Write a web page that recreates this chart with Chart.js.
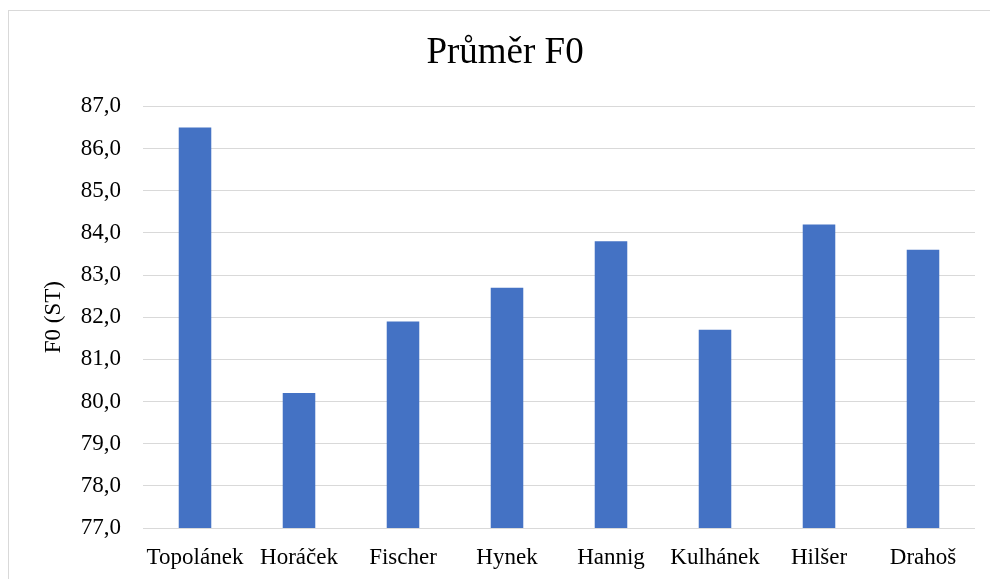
<!DOCTYPE html>
<html>
<head>
<meta charset="utf-8">
<title>Průměr F0</title>
<script src="https://cdn.jsdelivr.net/npm/chart.js@4/dist/chart.umd.min.js"></script>
<style>
    html, body { margin: 0; padding: 0; background: #fff; overflow: hidden; }
    #frame {
        position: absolute; left: 8px; top: 10px;
        width: 1000px; height: 600px;
        border: 1px solid #d9d9d9;
    }
    #chart { position: absolute; left: 0; top: 0; }
</style>
</head>
<body>
<div id="frame"></div>
<canvas id="chart" width="990" height="579"></canvas>
<script>
const speakers = ['Topolánek', 'Horáček', 'Fischer', 'Hynek', 'Hannig', 'Kulhánek', 'Hilšer', 'Drahoš'];
const meanF0 = [86.5, 80.2, 81.9, 82.7, 83.8, 81.7, 84.2, 83.6];
const yMin = 77;
const yMax = 87;

const serif = "'Liberation Serif', 'Times New Roman', serif";

function drawChart(canvas) {
    const ctx = document.getElementById(canvas).getContext('2d');

    const myChart = new Chart(ctx, {
        type: 'bar',
        data: {
            labels: speakers,
            datasets: [{
                label: 'Průměr F0',
                data: meanF0,
                backgroundColor: '#4472C4',
                borderWidth: 0,
                barPercentage: 0.313,
                categoryPercentage: 1.0
            }]
        },
        options: {
            responsive: false,
            animation: false,
            layout: {
                // left padding shifts the title centre to the middle of the framed area
                padding: { left: 35, right: 15, top: 0, bottom: 0 }
            },
            scales: {
                y: {
                    min: yMin,
                    max: yMax,
                    border: { display: false },
                    grid: { color: '#d9d9d9', lineWidth: 1, drawTicks: false },
                    ticks: {
                        stepSize: 1,
                        padding: 22,
                        color: '#000',
                        font: { family: serif, size: 23 },
                        callback: function(value) {
                            return value.toFixed(1).replace('.', ',');
                        }
                    },
                    title: {
                        display: true,
                        text: 'F0 (ST)',
                        color: '#000',
                        font: { family: serif, size: 23 },
                        padding: { top: 5, bottom: 0 }
                    },
                    afterFit: function(scale) { scale.width = 108; }
                },
                x: {
                    border: { display: false },
                    grid: { display: false, drawTicks: false },
                    ticks: {
                        padding: 16,
                        color: '#000',
                        maxRotation: 0,
                        autoSkip: false,
                        font: { family: serif, size: 23 }
                    },
                    afterFit: function(scale) { scale.height = 51; }
                }
            },
            plugins: {
                legend: { display: false },
                tooltip: { enabled: false },
                title: {
                    display: true,
                    text: 'Průměr F0',
                    color: '#000',
                    font: { family: serif, size: 37, weight: 'normal' },
                    padding: { top: 31, bottom: 31 }
                }
            }
        }
    });
}

drawChart('chart');
</script>
</body>
</html>
